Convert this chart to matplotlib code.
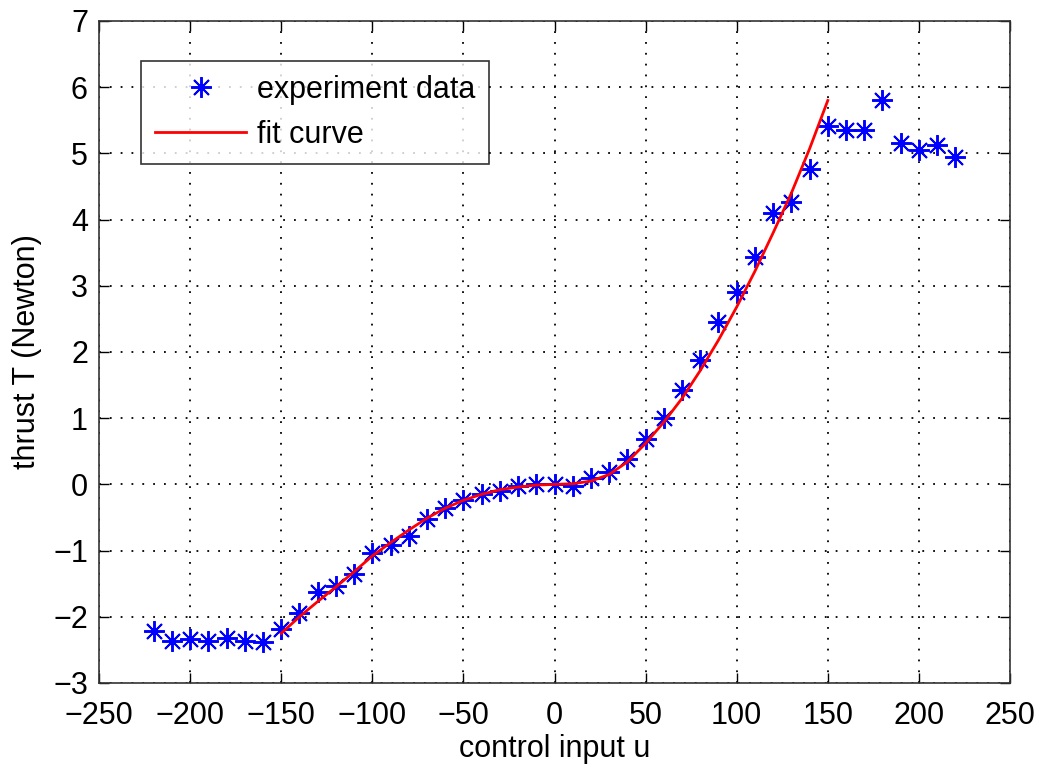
import matplotlib
matplotlib.use("Agg")
import matplotlib.pyplot as plt

plt.rcParams['font.family'] = ['Liberation Sans', 'DejaVu Sans']

# measured thrust at each control input
u_data = [-220, -210, -200, -190, -180, -170, -160, -150, -140, -130, -120,
          -110, -100, -90, -80, -70, -60, -50, -40, -30, -20, -10, 0,
          10, 20, 30, 40, 50, 60, 70, 80, 90, 100, 110, 120, 130, 140,
          150, 160, 170, 180, 190, 200, 210, 220]
T_data = [-2.22, -2.36, -2.34, -2.36, -2.32, -2.36, -2.38, -2.18, -1.94, -1.63, -1.53,
          -1.35, -1.04, -0.91, -0.78, -0.52, -0.35, -0.23, -0.14, -0.10, -0.02, 0.01, 0.0,
          -0.02, 0.09, 0.19, 0.38, 0.68, 1.00, 1.43, 1.88, 2.45, 2.91, 3.43, 4.10, 4.27, 4.77,
          5.42, 5.35, 5.35, 5.81, 5.16, 5.05, 5.12, 4.95]

# fitted curve, valid range -150..150
u_fit = [-150, -140, -130, -120, -110, -100, -90, -80, -70, -60, -50, -40, -30,
         -20, -10, 0, 10, 20, 30, 40, 50, 60, 70, 80, 90, 100, 110, 120,
         130, 140, 150]
T_fit = [-2.25, -2.00, -1.77, -1.55, -1.32, -1.08, -0.88, -0.69, -0.51, -0.36, -0.24, -0.15, -0.08,
         -0.04, -0.01, 0.0, 0.01, 0.05, 0.15, 0.34, 0.62, 0.94, 1.30, 1.72, 2.18, 2.68, 3.22, 3.80,
         4.40, 5.07, 5.80]

fig = plt.figure(figsize=(10.44, 7.64), dpi=100)
ax = fig.add_axes([99 / 1044, 1 - 683 / 764, (1010 - 99) / 1044, (683 - 21) / 764])

# 8-spoke asterisk like matlab's '*'
ax.plot(u_data, T_data, linestyle='none', marker=(8, 2, 0), color='blue',
        markersize=15, markeredgewidth=1.4, label='experiment data')
ax.plot(u_fit, T_fit, color='red', linewidth=2.0, label='fit curve')

ax.set_xlim(-250, 250)
ax.set_ylim(-3, 7)
ax.set_xticks(range(-250, 251, 50))
ax.set_yticks(range(-3, 8))
ax.set_xticklabels([str(v).replace('-', '\u2212') for v in range(-250, 251, 50)])
ax.set_yticklabels([str(v).replace('-', '\u2212') for v in range(-3, 8)])

ax.grid(True, color='black', linestyle=(0, (1, 5)), linewidth=1.3)
ax.tick_params(direction='in', length=7, width=1, top=True, right=True,
               labelsize=22, colors='black')
ax.tick_params(axis='x', pad=13)
ax.tick_params(axis='y', pad=8)
for s in ax.spines.values():
    s.set_linewidth(1.2)
    s.set_color('#333333')

ax.set_xlabel('control input u', fontsize=22, labelpad=2)
ax.set_ylabel('thrust T (Newton)', fontsize=22, labelpad=8)

leg = ax.legend(loc='upper left', bbox_to_anchor=(42 / 911, 1 - 40 / 662),
                fontsize=22, frameon=True, fancybox=False, edgecolor='black',
                handlelength=3.0, handletextpad=0.35, borderpad=0.45,
                labelspacing=0.5, borderaxespad=0)
leg.get_frame().set_linewidth(1.2)

fig.savefig('out.png', dpi=100)
